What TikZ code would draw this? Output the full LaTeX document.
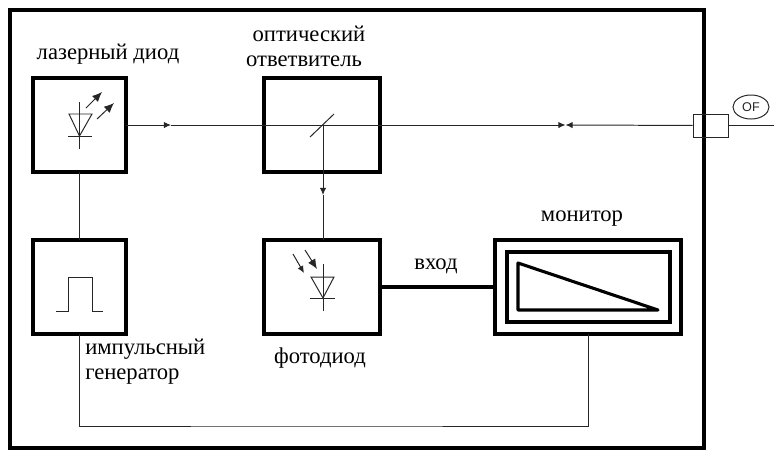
\documentclass[tikz,border=0pt]{standalone}
\usepackage{fontspec}
\setmainfont{Liberation Serif}
\newfontfamily\ofont{Liberation Sans}
\usetikzlibrary{arrows.meta,shapes.geometric}

\tikzset{
	thinline/.style={line width=0.7pt,black!85},
	thickline/.style={line width=2.6pt},
	unitbox/.style={draw,line width=2.6pt,inner sep=0pt,outer sep=0pt},
	smalltip/.style={-{Latex[length=5pt,width=4.5pt]}},
	raytip/.style={-{Latex[length=7pt,width=6pt]}},
	caption/.style={inner sep=0pt,align=left,font=\fontsize{16.1}{19.5}\selectfont}
}

\begin{document}
\begin{tikzpicture}[x=0.025cm,y=-0.025cm]
	\useasboundingbox (0,0) rectangle (777,456);

	% Outer case
	\node[draw,line width=3pt,inner sep=0pt,minimum width=17.35cm,minimum height=10.95cm] (case) at (357,229) {};

	% Blocks
	\node[unitbox,minimum width=2.325cm,minimum height=2.35cm] (laser) at (79.5,125) {};
	\node[unitbox,minimum width=2.9cm,minimum height=2.35cm] (coupler) at (322,125) {};
	\node[unitbox,minimum width=2.325cm,minimum height=2.35cm] (generator) at (79.5,287) {};
	\node[unitbox,minimum width=2.9cm,minimum height=2.35cm] (photo) at (322,287) {};
	\node[unitbox,minimum width=4.65cm,minimum height=2.35cm] (monitor) at (588,287) {};
	\node[unitbox,minimum width=4.075cm,minimum height=1.75cm] (screen) at (588.5,287) {};

	% Fibre port
	\node[thinline,draw,inner sep=0pt,minimum width=0.875cm,minimum height=0.575cm] (port) at (710.5,125.5) {};
	\node[thinline,draw,ellipse,inner sep=0pt,minimum width=0.9cm,minimum height=0.6cm,font=\ofont\fontsize{9}{9}\selectfont] (fibre) at (751,107) {OF};

	% Main optical line
	\coordinate (tipa) at (171,125);
	\coordinate (tipb) at (565.5,125);
	\coordinate (tipc) at (565.5,125);
	\coordinate (fibreend) at (774,125.5);
	\draw[thinline,smalltip] (laser) -- (tipa);
	\draw[thinline,smalltip] (tipa) -- (tipb);
	\draw[thinline,smalltip] (port) -- (tipc);
	\draw[thinline] (port) -- (fibreend);

	% Mirror and branch to the photodiode
	\coordinate (mirror) at (323,125);
	\coordinate (tipd) at (323,195);
	\coordinate (photoin) at (323,240);
	\draw[thinline] (310,137) -- (334,114);
	\draw[thinline,smalltip] (mirror) -- (tipd);
	\draw[thinline] (tipd) -- (photoin);

	% Electrical links
	\coordinate (busline) at (300,426);
	\draw[thinline] (laser) -- (generator);
	\draw[thinline] (generator.south) |- (busline) -| (monitor.south);
	\draw[thickline] (photo.east) -- (monitor.west);

	% Laser diode symbol
	\draw[thinline] (79.5,102) -- (79.5,149);
	\draw[thinline] (69,114) -- (92,114) -- (79.5,136) -- cycle;
	\draw[thinline] (68,136) -- (92,136);
	\draw[thinline,raytip] (86,108) -- (102,92);
	\draw[thinline,raytip] (97,119) -- (114,103);

	% Pulse
	\draw[thinline] (56,311) -- (68,311) -- (68,277) -- (92,277) -- (92,311) -- (103,311);

	% Photodiode symbol
	\draw[thinline] (323,264) -- (323,311);
	\draw[thinline] (311,277) -- (334,277) -- (323,298) -- cycle;
	\draw[thinline] (310,298) -- (335,298);
	\draw[thinline,smalltip] (293,254) -- (304,273);
	\draw[thinline,raytip] (305,250) -- (317,269);

	% Ramp on the screen
	\draw[line width=2.2pt,line join=round] (518,263) -- (518,310) -- (658,310) -- cycle;

	% Labels
	\node[caption] (laserlabel) at (108,54) {лазерный диод};
	\node[caption] (couplerlabela) at (309,34) {оптический};
	\node[caption] (couplerlabelb) at (304,61) {ответвитель};
	\node[caption] (monitorlabel) at (582,219) {монитор};
	\node[caption] (inputlabel) at (436,266) {вход};
	\node[caption,anchor=west] (genlabela) at (85,349) {импульсный};
	\node[caption,anchor=west] (genlabelb) at (85,377) {генератор};
	\node[caption] (photolabel) at (320,358) {фотодиод};

\end{tikzpicture}
\end{document}
